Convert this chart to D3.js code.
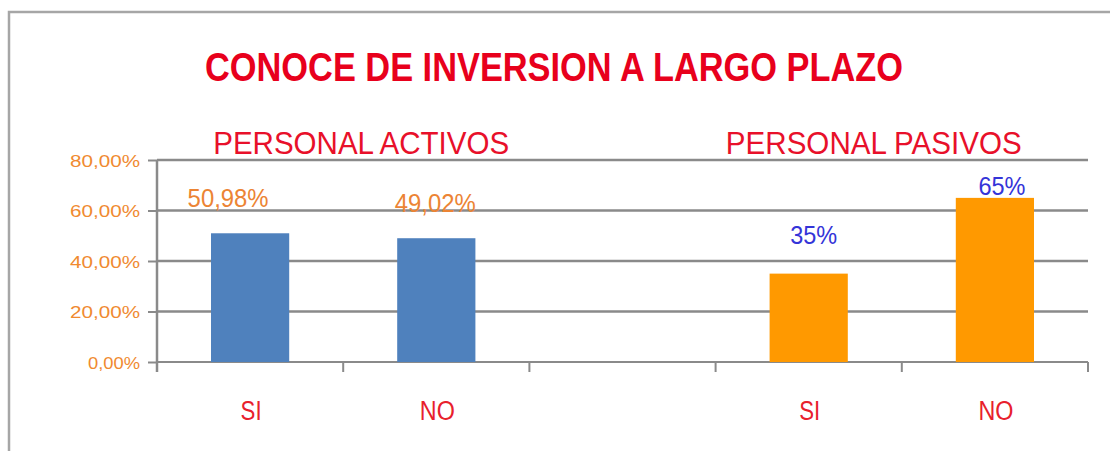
<!DOCTYPE html>
<html>
<head>
<meta charset="utf-8">
<script src="https://cdn.jsdelivr.net/npm/d3@7"></script>
<style>
  html, body { margin: 0; padding: 0; background: #fff; }
  svg { display: block; }
  text { font-family: "Liberation Sans Narrow", "Liberation Sans", Arial, sans-serif; }
</style>
</head>
<body>
<svg id="chart" width="1110" height="451"></svg>
<script>
// ---- data ----
const title = "CONOCE DE INVERSION A LARGO PLAZO";
const groupNames = ["PERSONAL ACTIVOS", "PERSONAL PASIVOS"];
const categories = ["SI", "NO"];
const activosValues = [50.98, 49.02];
const pasivosValues = [35, 65];
const activosLabels = ["50,98%", "49,02%"];
const pasivosLabels = ["35%", "65%"];
const yTickValues = [0, 20, 40, 60, 80];
const yTickLabels = ["0,00%", "20,00%", "40,00%", "60,00%", "80,00%"];

// ---- layout ----
const W = 1110, H = 451;
const plot = { left: 157, right: 1088, top: 160, bottom: 362 };
const svg = d3.select("#chart");

// slots: active SI, active NO, empty gap, passive SI, passive NO
const slots = [
  { key: "a0", cat: categories[0], value: activosValues[0], label: activosLabels[0], group: 0 },
  { key: "a1", cat: categories[1], value: activosValues[1], label: activosLabels[1], group: 0 },
  { key: "gap", cat: "", value: null, label: "", group: -1 },
  { key: "p0", cat: categories[0], value: pasivosValues[0], label: pasivosLabels[0], group: 1 },
  { key: "p1", cat: categories[1], value: pasivosValues[1], label: pasivosLabels[1], group: 1 }
];
// manual label nudges (as placed in the original)
const labelNudge = { a0: [-22, 26], a1: [-1, 26], p0: [5, 30], p1: [7, 3] };
const groupNudge = [18, -28];

const pad = 0.58;
const x = d3.scaleBand().domain(slots.map(d => d.key))
  .range([plot.left, plot.right]).paddingInner(pad).paddingOuter(pad / 2);
const y = d3.scaleLinear().domain([0, 80]).range([plot.bottom, plot.top]);

const gridColor = "#8a8a8a";

// frame
svg.append("rect").attr("x", 9).attr("y", 12).attr("width", W + 20).attr("height", H + 20)
  .attr("fill", "none").attr("stroke", "#a6a6a6").attr("stroke-width", 2.5);

// gridlines
svg.append("g").selectAll("line").data(yTickValues.filter(v => v > 0)).join("line")
  .attr("x1", plot.left).attr("x2", plot.right)
  .attr("y1", d => y(d)).attr("y2", d => y(d))
  .attr("stroke", gridColor).attr("stroke-width", 2.5);

// y axis
const yAxis = d3.axisLeft(y).tickValues(yTickValues)
  .tickFormat((d, i) => yTickLabels[i]).tickSize(9).tickPadding(8);
const gy = svg.append("g").attr("transform", `translate(${plot.left},0)`).call(yAxis);
gy.select(".domain").remove();
gy.selectAll(".tick line").attr("stroke", gridColor).attr("stroke-width", 2);
gy.selectAll(".tick text")
  .attr("fill", "#f08a30").style("font-size", "17px")
  .attr("dy", "0.36em")
  .attr("textLength", (d, i) => i === 0 ? 52 : 70)
  .attr("lengthAdjust", "spacingAndGlyphs");
svg.append("line").attr("x1", plot.left).attr("x2", plot.left)
  .attr("y1", plot.top).attr("y2", plot.bottom + 10)
  .attr("stroke", gridColor).attr("stroke-width", 2.5);

// x axis baseline + ticks at band boundaries
svg.append("line").attr("x1", plot.left).attr("x2", plot.right)
  .attr("y1", y(0)).attr("y2", y(0)).attr("stroke", gridColor).attr("stroke-width", 2);
const step = x.step();
const boundaries = slots.map(d => x(d.key) - step * pad / 2).concat([plot.right]);
svg.append("g").selectAll("line").data(boundaries).join("line")
  .attr("x1", d => d).attr("x2", d => d)
  .attr("y1", y(0)).attr("y2", y(0) + 10)
  .attr("stroke", gridColor).attr("stroke-width", 2);

// bars
const barColors = ["#4f81bd", "#ff9900"];
const bars = slots.filter(d => d.value !== null);
svg.append("g").selectAll("rect").data(bars).join("rect")
  .attr("x", d => x(d.key)).attr("width", x.bandwidth())
  .attr("y", d => y(d.value)).attr("height", d => y(0) - y(d.value))
  .attr("fill", d => barColors[d.group]);

// data labels
const labelColors = ["#ec8434", "#3434d8"];
svg.append("g").selectAll("text").data(bars).join("text")
  .attr("x", d => x(d.key) + x.bandwidth() / 2 + labelNudge[d.key][0])
  .attr("y", d => y(d.value) - labelNudge[d.key][1])
  .attr("text-anchor", "middle")
  .attr("fill", d => labelColors[d.group])
  .style("font-size", "25px")
  .attr("textLength", d => d.label.length > 4 ? 81 : 47)
  .attr("lengthAdjust", "spacingAndGlyphs")
  .text(d => d.label);

// category labels
svg.append("g").selectAll("text").data(bars).join("text")
  .attr("x", d => x(d.key) + x.bandwidth() / 2 + 1)
  .attr("y", 420)
  .attr("text-anchor", "middle")
  .attr("fill", "#e8202c")
  .style("font-size", "27px")
  .attr("textLength", d => d.cat === "SI" ? 21 : 35)
  .attr("lengthAdjust", "spacingAndGlyphs")
  .text(d => d.cat);

// group titles
const groupCenters = [0, 1].map(g => {
  const ks = slots.filter(d => d.group === g);
  return (x(ks[0].key) + x(ks[ks.length - 1].key) + x.bandwidth()) / 2;
});
svg.append("g").selectAll("text").data(groupNames).join("text")
  .attr("x", (d, i) => groupCenters[i] + groupNudge[i])
  .attr("y", 154)
  .attr("text-anchor", "middle")
  .attr("fill", "#e8102a")
  .style("font-size", "31px")
  .attr("textLength", 296)
  .attr("lengthAdjust", "spacingAndGlyphs")
  .text(d => d);

// title
svg.append("text")
  .attr("x", 554).attr("y", 81)
  .attr("text-anchor", "middle")
  .attr("fill", "#e8001c")
  .style("font-size", "40px").style("font-weight", "bold")
  .attr("textLength", 698)
  .attr("lengthAdjust", "spacingAndGlyphs")
  .text(title);
</script>
</body>
</html>
